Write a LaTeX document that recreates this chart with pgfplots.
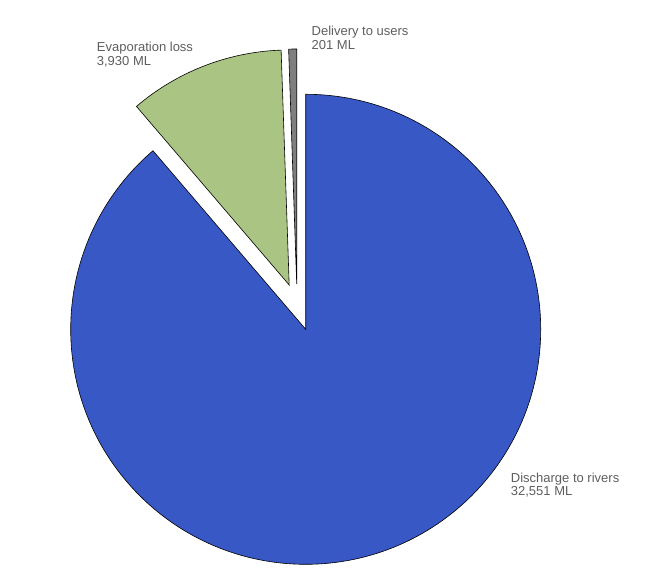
\documentclass[border=0pt]{standalone}
\usepackage{fontspec}
\setmainfont{Liberation Sans}
\usepackage{pgfplots}
\usepackage{pgfplotstable}
\pgfplotsset{compat=1.18}

\definecolor{riverblue}{HTML}{3858C6}
\definecolor{evapgreen}{HTML}{A9C483}
\definecolor{usergrey}{HTML}{7F7F7F}
\definecolor{labelgrey}{HTML}{5E5E5E}
\newcommand\labfont{\fontsize{13bp}{15bp}\selectfont}

% slice values (ML) and the vertex of each slice (exploded offsets), px from bottom-left
\pgfplotstableread{
name   value  cx     cy
rivers 32551  305.7  254.7
evap   3930   289.2  299.0
users  201    296.7  300.0
}\piedata

\begin{document}
\begin{tikzpicture}
\pgfplotstablegetelem{0}{value}\of\piedata \let\vRiv\pgfplotsretval
\pgfplotstablegetelem{1}{value}\of\piedata \let\vEva\pgfplotsretval
\pgfplotstablegetelem{2}{value}\of\piedata \let\vUse\pgfplotsretval
\pgfplotstablegetelem{0}{cx}\of\piedata \let\xRiv\pgfplotsretval
\pgfplotstablegetelem{0}{cy}\of\piedata \let\yRiv\pgfplotsretval
\pgfplotstablegetelem{1}{cx}\of\piedata \let\xEva\pgfplotsretval
\pgfplotstablegetelem{1}{cy}\of\piedata \let\yEva\pgfplotsretval
\pgfplotstablegetelem{2}{cx}\of\piedata \let\xUse\pgfplotsretval
\pgfplotstablegetelem{2}{cy}\of\piedata \let\yUse\pgfplotsretval
\edef\tot{\fpeval{\vRiv+\vEva+\vUse}}
\edef\aA{\fpeval{90-360*\vRiv/\tot}}
\edef\aB{\fpeval{\aA-360*\vEva/\tot}}
\edef\aC{\fpeval{\aB-360*\vUse/\tot}}
\begin{axis}[
    hide axis,
    scale only axis,
    x=1bp, y=1bp,
    xmin=0, xmax=650,
    ymin=0, ymax=584,
    clip=false
]
\path (axis cs:0,0) rectangle (axis cs:650,584);
\filldraw[fill=riverblue, draw=black, line width=0.6bp]
    (axis cs:\xRiv,\yRiv) -- ++(90:235bp) arc[start angle=90, end angle=\aA, radius=235bp] -- cycle;
\filldraw[fill=evapgreen, draw=black, line width=0.6bp]
    (axis cs:\xEva,\yEva) -- ++(\aA:235bp) arc[start angle=\aA, end angle=\aB, radius=235bp] -- cycle;
\filldraw[fill=usergrey, draw=black, line width=0.6bp]
    (axis cs:\xUse,\yUse) -- ++(\aB:235bp) arc[start angle=\aB, end angle=\aC, radius=235bp] -- cycle;

\node[anchor=base west, inner sep=0pt, text=labelgrey, font=\labfont] at (axis cs:96.7,532.5) {Evaporation loss};
\node[anchor=base west, inner sep=0pt, text=labelgrey, font=\labfont] at (axis cs:96.7,518.8) {3,930 ML};
\node[anchor=base west, inner sep=0pt, text=labelgrey, font=\labfont] at (axis cs:311.5,548.5) {Delivery to users};
\node[anchor=base west, inner sep=0pt, text=labelgrey, font=\labfont] at (axis cs:311.5,534.8) {201 ML};
\node[anchor=base west, inner sep=0pt, text=labelgrey, font=\labfont] at (axis cs:510.7,101.7) {Discharge to rivers};
\node[anchor=base west, inner sep=0pt, text=labelgrey, font=\labfont] at (axis cs:510.7,88.0) {32,551 ML};
\end{axis}
\end{tikzpicture}
\end{document}
